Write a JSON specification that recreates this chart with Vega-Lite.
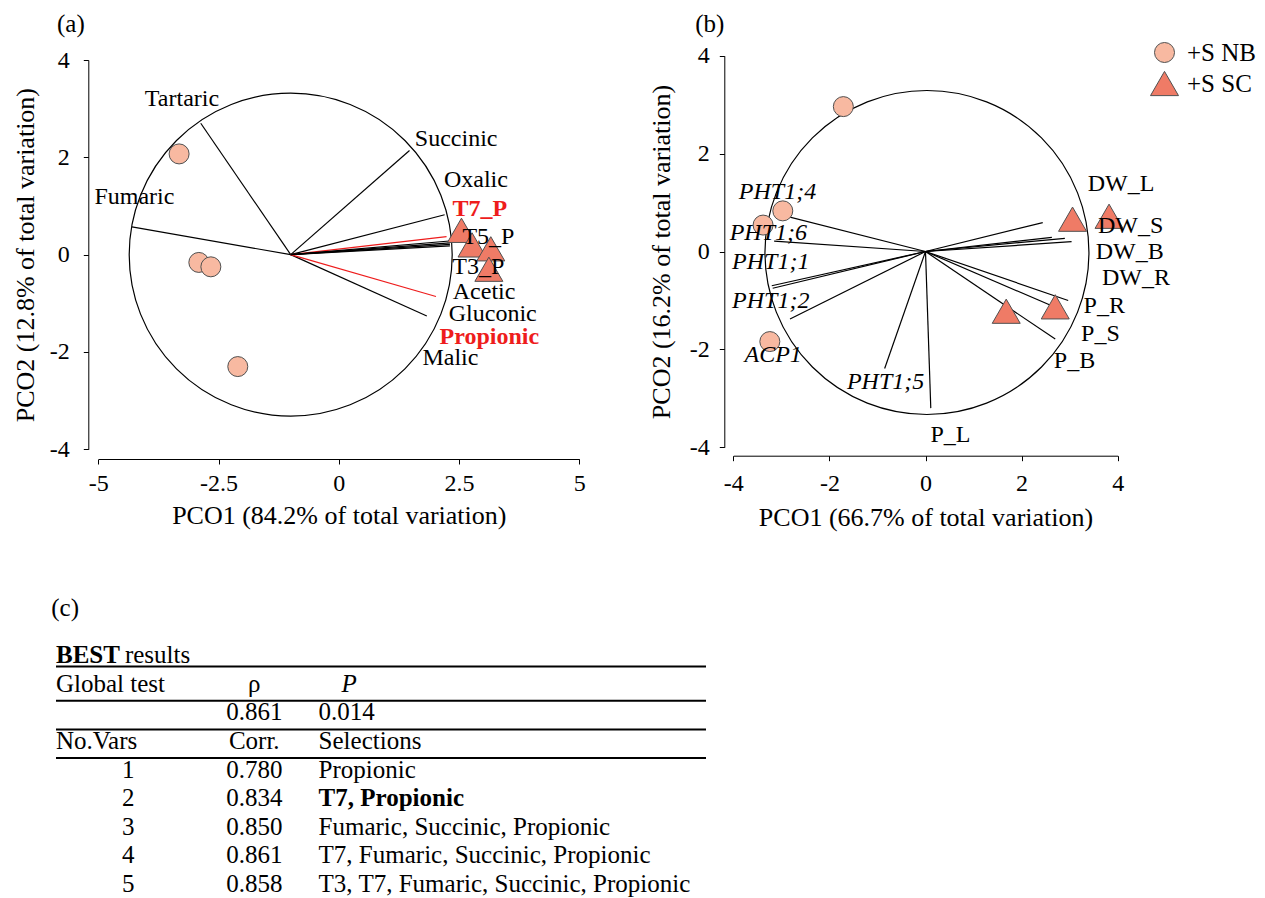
{
  "$schema": "https://vega.github.io/schema/vega-lite/v6.json",
  "width": 1265,
  "height": 898,
  "autosize": {"type": "none"},
  "padding": 0,
  "background": "#ffffff",
  "config": {
    "view": {"stroke": null},
    "font": "Liberation Serif",
    "axis": {
      "grid": false,
      "domainColor": "#000000",
      "domainWidth": 1,
      "tickColor": "#000000",
      "tickWidth": 1,
      "tickSize": 5,
      "labelFont": "Liberation Serif",
      "labelFontSize": 24,
      "labelColor": "#000000",
      "labelFlush": false,
      "labelOverlap": false,
      "titleFont": "Liberation Serif",
      "titleFontSize": 26,
      "titleFontWeight": "normal",
      "titleColor": "#000000"
    },
    "legend": {
      "title": null,
      "padding": 0,
      "labelFont": "Liberation Serif",
      "labelFontSize": 25,
      "labelColor": "#000000",
      "labelOffset": 8,
      "rowPadding": 3,
      "symbolStrokeColor": "#505050",
      "symbolStrokeWidth": 1,
      "symbolOpacity": 1
    },
    "text": {"font": "Liberation Serif", "fontSize": 24, "color": "#000000", "baseline": "middle"}
  },
  "datasets": {
    "acidScores": [
      {"treatment": "+S NB", "pc1": -3.32, "pc2": 2.07},
      {"treatment": "+S NB", "pc1": -2.91, "pc2": -0.16},
      {"treatment": "+S NB", "pc1": -2.66, "pc2": -0.25},
      {"treatment": "+S NB", "pc1": -2.10, "pc2": -2.30},
      {"treatment": "+S SC", "pc1": 2.55, "pc2": 0.50},
      {"treatment": "+S SC", "pc1": 2.77, "pc2": 0.20},
      {"treatment": "+S SC", "pc1": 3.16, "pc2": 0.12},
      {"treatment": "+S SC", "pc1": 3.12, "pc2": -0.30}
    ],
    "acidVectors": [
      {"v": "Tartaric", "x0": -1.0, "y0": 0, "x1": -2.87, "y1": 2.70, "lx": -3.26, "ly": 3.20, "best": false},
      {"v": "Fumaric", "x0": -1.0, "y0": 0, "x1": -4.30, "y1": 0.57, "lx": -4.25, "ly": 1.18, "best": false},
      {"v": "Succinic", "x0": -1.0, "y0": 0, "x1": 1.47, "y1": 2.14, "lx": 2.44, "ly": 2.38, "best": false},
      {"v": "Oxalic", "x0": -1.0, "y0": 0, "x1": 2.20, "y1": 0.82, "lx": 2.85, "ly": 1.53, "best": false},
      {"v": "T7_P", "x0": -1.0, "y0": 0, "x1": 2.24, "y1": 0.37, "lx": 2.93, "ly": 0.94, "best": true},
      {"v": "T5_P", "x0": -1.0, "y0": 0, "x1": 2.30, "y1": 0.28, "lx": 3.11, "ly": 0.36, "best": false},
      {"v": "T3_P", "x0": -1.0, "y0": 0, "x1": 2.31, "y1": 0.24, "lx": 2.90, "ly": -0.25, "best": false},
      {"v": "Acetic", "x0": -1.0, "y0": 0, "x1": 2.31, "y1": 0.21, "lx": 3.02, "ly": -0.76, "best": false},
      {"v": "Gluconic", "x0": -1.0, "y0": 0, "x1": 1.83, "y1": -1.26, "lx": 3.20, "ly": -1.22, "best": false},
      {"v": "Propionic", "x0": -1.0, "y0": 0, "x1": 2.02, "y1": -0.86, "lx": 3.13, "ly": -1.69, "best": true},
      {"v": "Malic", "x0": -1.0, "y0": 0, "x1": 2.31, "y1": 0.18, "lx": 2.32, "ly": -2.12, "best": false}
    ],
    "acidRing": [{"cx": -1.0, "cy": 0}],
    "geneScores": [
      {"treatment": "+S NB", "pc1": -1.71, "pc2": 2.96},
      {"treatment": "+S NB", "pc1": -2.97, "pc2": 0.83},
      {"treatment": "+S NB", "pc1": -3.38, "pc2": 0.54},
      {"treatment": "+S NB", "pc1": -3.24, "pc2": -1.84},
      {"treatment": "+S SC", "pc1": 3.06, "pc2": 0.66},
      {"treatment": "+S SC", "pc1": 3.82, "pc2": 0.72},
      {"treatment": "+S SC", "pc1": 2.70, "pc2": -1.13},
      {"treatment": "+S SC", "pc1": 1.68, "pc2": -1.22}
    ],
    "geneVectors": [
      {"v": "PHT1;4", "kind": "gene", "x0": 0, "y0": 0, "x1": -3.17, "y1": 0.79, "lx": -3.08, "ly": 1.22},
      {"v": "PHT1;6", "kind": "gene", "x0": 0, "y0": 0, "x1": -3.15, "y1": 0.21, "lx": -3.27, "ly": 0.38},
      {"v": "PHT1;1", "kind": "gene", "x0": 0, "y0": 0, "x1": -3.20, "y1": -0.70, "lx": -3.22, "ly": -0.21},
      {"v": "ACP1", "kind": "gene", "x0": 0, "y0": 0, "x1": -3.18, "y1": -0.75, "lx": -3.17, "ly": -2.11},
      {"v": "PHT1;2", "kind": "gene", "x0": 0, "y0": 0, "x1": -2.82, "y1": -1.38, "lx": -3.22, "ly": -1.02},
      {"v": "PHT1;5", "kind": "gene", "x0": 0, "y0": 0, "x1": -0.85, "y1": -2.39, "lx": -0.83, "ly": -2.67},
      {"v": "P_L", "kind": "trait", "x0": 0, "y0": 0, "x1": 0.11, "y1": -3.20, "lx": 0.52, "ly": -3.75},
      {"v": "P_B", "kind": "trait", "x0": 0, "y0": 0, "x1": 2.70, "y1": -1.79, "lx": 3.10, "ly": -2.24},
      {"v": "P_S", "kind": "trait", "x0": 0, "y0": 0, "x1": 2.70, "y1": -1.14, "lx": 3.64, "ly": -1.69},
      {"v": "P_R", "kind": "trait", "x0": 0, "y0": 0, "x1": 2.97, "y1": -1.00, "lx": 3.72, "ly": -1.11},
      {"v": "DW_R", "kind": "trait", "x0": 0, "y0": 0, "x1": 3.04, "y1": 0.20, "lx": 4.38, "ly": -0.55},
      {"v": "DW_B", "kind": "trait", "x0": 0, "y0": 0, "x1": 2.90, "y1": 0.27, "lx": 4.25, "ly": 0.0},
      {"v": "DW_S", "kind": "trait", "x0": 0, "y0": 0, "x1": 2.63, "y1": 0.29, "lx": 4.27, "ly": 0.52},
      {"v": "DW_L", "kind": "trait", "x0": 0, "y0": 0, "x1": 2.44, "y1": 0.59, "lx": 4.07, "ly": 1.38}
    ],
    "geneRing": [{"cx": 0.03, "cy": -0.02}],
    "panelTags": [
      {"panel": "a", "tag": "(a)", "x": -5.57, "y": 4.75},
      {"panel": "b", "tag": "(b)", "x": -4.49, "y": 4.64}
    ],
    "tableHeads": [
      {"line": 0, "c": "head", "t": "BEST"},
      {"line": 0, "c": "headRest", "t": "results"},
      {"line": 1, "c": "lab", "t": "Global test"},
      {"line": 1, "c": "corr", "t": "ρ"},
      {"line": 1, "c": "p", "t": "P"},
      {"line": 3, "c": "lab", "t": "No.Vars"},
      {"line": 3, "c": "corr", "t": "Corr."},
      {"line": 3, "c": "sel", "t": "Selections"},
      {"line": -1.65, "c": "tag", "t": "(c)"}
    ],
    "globalTest": [{"line": 2, "rho": 0.861, "p": 0.014}],
    "bestSelections": [
      {"line": 4, "nvars": 1, "corr": 0.780, "vars": "Propionic", "best": false},
      {"line": 5, "nvars": 2, "corr": 0.834, "vars": "T7, Propionic", "best": true},
      {"line": 6, "nvars": 3, "corr": 0.850, "vars": "Fumaric, Succinic, Propionic", "best": false},
      {"line": 7, "nvars": 4, "corr": 0.861, "vars": "T7, Fumaric, Succinic, Propionic", "best": false},
      {"line": 8, "nvars": 5, "corr": 0.858, "vars": "T3, T7, Fumaric, Succinic, Propionic", "best": false}
    ],
    "tableRules": [{"below": 0.4}, {"below": 1.6}, {"below": 2.6}, {"below": 3.6}]
  },
  "resolve": {"scale": {"x": "independent", "y": "independent"}},
  "layer": [
    {
      "data": {"name": "acidVectors"},
      "mark": {"type": "rule", "strokeWidth": 1.2},
      "encoding": {
        "x": {
          "field": "x0", "type": "quantitative",
          "scale": {"domain": [-5, 5], "range": [98.3, 579.3], "nice": false, "zero": false},
          "axis": {
            "orient": "bottom", "offset": -439, "values": [-5, -2.5, 0, 2.5, 5], "format": ".1~f",
            "labelExpr": "replace(datum.label, '\u2212', '-')",
            "labelPadding": 19, "labelBaseline": "middle",
            "title": "PCO1 (84.2% of total variation)", "titleBaseline": "middle", "titleY": 56
          }
        },
        "y": {
          "field": "y0", "type": "quantitative",
          "scale": {"domain": [-4, 4], "range": [449.3, 60], "nice": false, "zero": false},
          "axis": {
            "orient": "left", "offset": -88.3, "values": [-4, -2, 0, 2, 4], "format": "d",
            "labelExpr": "replace(datum.label, '\u2212', '-')",
            "labelPadding": 14,
            "title": "PCO2 (12.8% of total variation)", "titleAngle": -90, "titleBaseline": "middle", "titleX": -63.3
          }
        },
        "x2": {"field": "x1"},
        "y2": {"field": "y1"},
        "color": {"condition": {"test": "datum.best", "value": "#ee1c1c"}, "value": "#000000"}
      }
    },
    {
      "data": {"name": "acidRing"},
      "mark": {"type": "point", "shape": "circle", "filled": false, "size": 104329, "color": "#000000", "strokeWidth": 1.2, "opacity": 1},
      "encoding": {
        "x": {"field": "cx", "type": "quantitative", "scale": {"domain": [-5, 5], "range": [98.3, 579.3], "nice": false, "zero": false}, "axis": null},
        "y": {"field": "cy", "type": "quantitative", "scale": {"domain": [-4, 4], "range": [449.3, 60], "nice": false, "zero": false}, "axis": null}
      }
    },
    {
      "data": {"name": "acidScores"},
      "mark": {"type": "point", "filled": true, "opacity": 1, "stroke": "#505050", "strokeWidth": 1},
      "encoding": {
        "x": {"field": "pc1", "type": "quantitative", "scale": {"domain": [-5, 5], "range": [98.3, 579.3], "nice": false, "zero": false}, "axis": null},
        "y": {"field": "pc2", "type": "quantitative", "scale": {"domain": [-4, 4], "range": [449.3, 60], "nice": false, "zero": false}, "axis": null},
        "shape": {"field": "treatment", "type": "nominal", "scale": {"domain": ["+S NB", "+S SC"], "range": ["circle", "triangle-up"]}, "legend": {"orient": "none", "legendX": 1150, "legendY": 40, "encode": {"symbols": {"update": {"stroke": {"value": "#505050"}, "strokeWidth": {"value": 1}}}}}},
        "fill": {"field": "treatment", "type": "nominal", "scale": {"domain": ["+S NB", "+S SC"], "range": ["#f8b9a1", "#ef7b66"]}, "legend": {"orient": "none", "legendX": 1150, "legendY": 40, "encode": {"symbols": {"update": {"stroke": {"value": "#505050"}, "strokeWidth": {"value": 1}}}}}},
        "size": {"field": "treatment", "type": "nominal", "scale": {"domain": ["+S NB", "+S SC"], "range": [400, 784]}, "legend": {"orient": "none", "legendX": 1150, "legendY": 40, "encode": {"symbols": {"update": {"stroke": {"value": "#505050"}, "strokeWidth": {"value": 1}}}}}}
      }
    },
    {
      "data": {"name": "acidVectors"},
      "transform": [{"filter": "!datum.best"}],
      "mark": {"type": "text", "align": "center", "baseline": "middle", "fontSize": 24},
      "encoding": {
        "x": {"field": "lx", "type": "quantitative", "scale": {"domain": [-5, 5], "range": [98.3, 579.3], "nice": false, "zero": false}, "axis": null},
        "y": {"field": "ly", "type": "quantitative", "scale": {"domain": [-4, 4], "range": [449.3, 60], "nice": false, "zero": false}, "axis": null},
        "text": {"field": "v"}
      }
    },
    {
      "data": {"name": "acidVectors"},
      "transform": [{"filter": "datum.best"}],
      "mark": {"type": "text", "align": "center", "baseline": "middle", "fontSize": 24, "fontWeight": "bold", "color": "#ee1c1c"},
      "encoding": {
        "x": {"field": "lx", "type": "quantitative", "scale": {"domain": [-5, 5], "range": [98.3, 579.3], "nice": false, "zero": false}, "axis": null},
        "y": {"field": "ly", "type": "quantitative", "scale": {"domain": [-4, 4], "range": [449.3, 60], "nice": false, "zero": false}, "axis": null},
        "text": {"field": "v"}
      }
    },
    {
      "data": {"name": "panelTags"},
      "transform": [{"filter": "datum.panel == 'a'"}],
      "mark": {"type": "text", "align": "center", "baseline": "middle", "fontSize": 25},
      "encoding": {
        "x": {"field": "x", "type": "quantitative", "scale": {"domain": [-5, 5], "range": [98.3, 579.3], "nice": false, "zero": false}, "axis": null},
        "y": {"field": "y", "type": "quantitative", "scale": {"domain": [-4, 4], "range": [449.3, 60], "nice": false, "zero": false}, "axis": null},
        "text": {"field": "tag"}
      }
    },
    {
      "data": {"name": "geneVectors"},
      "mark": {"type": "rule", "strokeWidth": 1.2, "color": "#000000"},
      "encoding": {
        "x": {
          "field": "x0", "type": "quantitative",
          "scale": {"domain": [-4, 4], "range": [733.3, 1117.7], "nice": false, "zero": false},
          "axis": {
            "orient": "bottom", "offset": -442.3, "values": [-4, -2, 0, 2, 4], "format": "d",
            "labelExpr": "replace(datum.label, '\u2212', '-')",
            "labelPadding": 22.6, "labelBaseline": "middle",
            "title": "PCO1 (66.7% of total variation)", "titleBaseline": "middle", "titleY": 61.8
          }
        },
        "y": {
          "field": "y0", "type": "quantitative",
          "scale": {"domain": [-4, 4], "range": [447.3, 55.7], "nice": false, "zero": false},
          "axis": {
            "orient": "left", "offset": -724.3, "values": [-4, -2, 0, 2, 4], "format": "d",
            "labelExpr": "replace(datum.label, '\u2212', '-')",
            "labelPadding": 10,
            "title": "PCO2 (16.2% of total variation)", "titleAngle": -90, "titleBaseline": "middle", "titleX": -63.3
          }
        },
        "x2": {"field": "x1"},
        "y2": {"field": "y1"}
      }
    },
    {
      "data": {"name": "geneRing"},
      "mark": {"type": "point", "shape": "circle", "filled": false, "size": 104976, "color": "#000000", "strokeWidth": 1.2, "opacity": 1},
      "encoding": {
        "x": {"field": "cx", "type": "quantitative", "scale": {"domain": [-4, 4], "range": [733.3, 1117.7], "nice": false, "zero": false}, "axis": null},
        "y": {"field": "cy", "type": "quantitative", "scale": {"domain": [-4, 4], "range": [447.3, 55.7], "nice": false, "zero": false}, "axis": null}
      }
    },
    {
      "data": {"name": "geneScores"},
      "mark": {"type": "point", "filled": true, "opacity": 1, "stroke": "#505050", "strokeWidth": 1},
      "encoding": {
        "x": {"field": "pc1", "type": "quantitative", "scale": {"domain": [-4, 4], "range": [733.3, 1117.7], "nice": false, "zero": false}, "axis": null},
        "y": {"field": "pc2", "type": "quantitative", "scale": {"domain": [-4, 4], "range": [447.3, 55.7], "nice": false, "zero": false}, "axis": null},
        "shape": {"field": "treatment", "type": "nominal", "scale": {"domain": ["+S NB", "+S SC"], "range": ["circle", "triangle-up"]}, "legend": {"orient": "none", "legendX": 1150, "legendY": 40, "encode": {"symbols": {"update": {"stroke": {"value": "#505050"}, "strokeWidth": {"value": 1}}}}}},
        "fill": {"field": "treatment", "type": "nominal", "scale": {"domain": ["+S NB", "+S SC"], "range": ["#f8b9a1", "#ef7b66"]}, "legend": {"orient": "none", "legendX": 1150, "legendY": 40, "encode": {"symbols": {"update": {"stroke": {"value": "#505050"}, "strokeWidth": {"value": 1}}}}}},
        "size": {"field": "treatment", "type": "nominal", "scale": {"domain": ["+S NB", "+S SC"], "range": [400, 784]}, "legend": {"orient": "none", "legendX": 1150, "legendY": 40, "encode": {"symbols": {"update": {"stroke": {"value": "#505050"}, "strokeWidth": {"value": 1}}}}}}
      }
    },
    {
      "data": {"name": "geneVectors"},
      "transform": [{"filter": "datum.kind == 'trait'"}],
      "mark": {"type": "text", "align": "center", "baseline": "middle", "fontSize": 24},
      "encoding": {
        "x": {"field": "lx", "type": "quantitative", "scale": {"domain": [-4, 4], "range": [733.3, 1117.7], "nice": false, "zero": false}, "axis": null},
        "y": {"field": "ly", "type": "quantitative", "scale": {"domain": [-4, 4], "range": [447.3, 55.7], "nice": false, "zero": false}, "axis": null},
        "text": {"field": "v"}
      }
    },
    {
      "data": {"name": "geneVectors"},
      "transform": [{"filter": "datum.kind == 'gene'"}],
      "mark": {"type": "text", "align": "center", "baseline": "middle", "fontSize": 24, "fontStyle": "italic"},
      "encoding": {
        "x": {"field": "lx", "type": "quantitative", "scale": {"domain": [-4, 4], "range": [733.3, 1117.7], "nice": false, "zero": false}, "axis": null},
        "y": {"field": "ly", "type": "quantitative", "scale": {"domain": [-4, 4], "range": [447.3, 55.7], "nice": false, "zero": false}, "axis": null},
        "text": {"field": "v"}
      }
    },
    {
      "data": {"name": "panelTags"},
      "transform": [{"filter": "datum.panel == 'b'"}],
      "mark": {"type": "text", "align": "center", "baseline": "middle", "fontSize": 25},
      "encoding": {
        "x": {"field": "x", "type": "quantitative", "scale": {"domain": [-4, 4], "range": [733.3, 1117.7], "nice": false, "zero": false}, "axis": null},
        "y": {"field": "y", "type": "quantitative", "scale": {"domain": [-4, 4], "range": [447.3, 55.7], "nice": false, "zero": false}, "axis": null},
        "text": {"field": "tag"}
      }
    },
    {
      "data": {"name": "tableRules"},
      "mark": {"type": "rule", "strokeWidth": 2, "color": "#000000"},
      "encoding": {
        "x": {"datum": 0, "type": "quantitative", "scale": {"domain": [0, 100], "range": [56, 706], "nice": false, "zero": false}, "axis": null},
        "x2": {"datum": 100},
        "y": {"field": "below", "type": "quantitative", "scale": {"domain": [0, 8], "range": [655, 884], "nice": false, "zero": false}, "axis": null}
      }
    },
    {
      "data": {"name": "tableHeads"},
      "transform": [{"filter": "datum.c == 'tag'"}],
      "mark": {"type": "text", "align": "center", "fontSize": 25},
      "encoding": {
        "x": {"datum": 1.4, "type": "quantitative", "scale": {"domain": [0, 100], "range": [56, 706], "nice": false, "zero": false}, "axis": null},
        "y": {"field": "line", "type": "quantitative", "scale": {"domain": [0, 8], "range": [655, 884], "nice": false, "zero": false}, "axis": null},
        "text": {"field": "t"}
      }
    },
    {
      "data": {"name": "tableHeads"},
      "transform": [{"filter": "datum.c == 'head'"}],
      "mark": {"type": "text", "align": "left", "fontSize": 25, "fontWeight": "bold"},
      "encoding": {
        "x": {"datum": 0, "type": "quantitative", "scale": {"domain": [0, 100], "range": [56, 706], "nice": false, "zero": false}, "axis": null},
        "y": {"field": "line", "type": "quantitative", "scale": {"domain": [0, 8], "range": [655, 884], "nice": false, "zero": false}, "axis": null},
        "text": {"field": "t"}
      }
    },
    {
      "data": {"name": "tableHeads"},
      "transform": [{"filter": "datum.c == 'headRest'"}],
      "mark": {"type": "text", "align": "left", "fontSize": 25},
      "encoding": {
        "x": {"datum": 10.6, "type": "quantitative", "scale": {"domain": [0, 100], "range": [56, 706], "nice": false, "zero": false}, "axis": null},
        "y": {"field": "line", "type": "quantitative", "scale": {"domain": [0, 8], "range": [655, 884], "nice": false, "zero": false}, "axis": null},
        "text": {"field": "t"}
      }
    },
    {
      "data": {"name": "tableHeads"},
      "transform": [{"filter": "datum.c == 'lab'"}],
      "mark": {"type": "text", "align": "left", "fontSize": 25},
      "encoding": {
        "x": {"datum": 0, "type": "quantitative", "scale": {"domain": [0, 100], "range": [56, 706], "nice": false, "zero": false}, "axis": null},
        "y": {"field": "line", "type": "quantitative", "scale": {"domain": [0, 8], "range": [655, 884], "nice": false, "zero": false}, "axis": null},
        "text": {"field": "t"}
      }
    },
    {
      "data": {"name": "tableHeads"},
      "transform": [{"filter": "datum.c == 'corr'"}],
      "mark": {"type": "text", "align": "center", "fontSize": 25},
      "encoding": {
        "x": {"datum": 30.5, "type": "quantitative", "scale": {"domain": [0, 100], "range": [56, 706], "nice": false, "zero": false}, "axis": null},
        "y": {"field": "line", "type": "quantitative", "scale": {"domain": [0, 8], "range": [655, 884], "nice": false, "zero": false}, "axis": null},
        "text": {"field": "t"}
      }
    },
    {
      "data": {"name": "tableHeads"},
      "transform": [{"filter": "datum.c == 'p'"}],
      "mark": {"type": "text", "align": "center", "fontSize": 25, "fontStyle": "italic"},
      "encoding": {
        "x": {"datum": 45.1, "type": "quantitative", "scale": {"domain": [0, 100], "range": [56, 706], "nice": false, "zero": false}, "axis": null},
        "y": {"field": "line", "type": "quantitative", "scale": {"domain": [0, 8], "range": [655, 884], "nice": false, "zero": false}, "axis": null},
        "text": {"field": "t"}
      }
    },
    {
      "data": {"name": "tableHeads"},
      "transform": [{"filter": "datum.c == 'sel'"}],
      "mark": {"type": "text", "align": "left", "fontSize": 25},
      "encoding": {
        "x": {"datum": 40.4, "type": "quantitative", "scale": {"domain": [0, 100], "range": [56, 706], "nice": false, "zero": false}, "axis": null},
        "y": {"field": "line", "type": "quantitative", "scale": {"domain": [0, 8], "range": [655, 884], "nice": false, "zero": false}, "axis": null},
        "text": {"field": "t"}
      }
    },
    {
      "data": {"name": "globalTest"},
      "mark": {"type": "text", "align": "center", "fontSize": 25},
      "encoding": {
        "x": {"datum": 30.5, "type": "quantitative", "scale": {"domain": [0, 100], "range": [56, 706], "nice": false, "zero": false}, "axis": null},
        "y": {"field": "line", "type": "quantitative", "scale": {"domain": [0, 8], "range": [655, 884], "nice": false, "zero": false}, "axis": null},
        "text": {"field": "rho", "type": "quantitative", "format": ".3f"}
      }
    },
    {
      "data": {"name": "globalTest"},
      "mark": {"type": "text", "align": "left", "fontSize": 25},
      "encoding": {
        "x": {"datum": 40.4, "type": "quantitative", "scale": {"domain": [0, 100], "range": [56, 706], "nice": false, "zero": false}, "axis": null},
        "y": {"field": "line", "type": "quantitative", "scale": {"domain": [0, 8], "range": [655, 884], "nice": false, "zero": false}, "axis": null},
        "text": {"field": "p", "type": "quantitative", "format": ".3f"}
      }
    },
    {
      "data": {"name": "bestSelections"},
      "mark": {"type": "text", "align": "center", "fontSize": 25},
      "encoding": {
        "x": {"datum": 11.1, "type": "quantitative", "scale": {"domain": [0, 100], "range": [56, 706], "nice": false, "zero": false}, "axis": null},
        "y": {"field": "line", "type": "quantitative", "scale": {"domain": [0, 8], "range": [655, 884], "nice": false, "zero": false}, "axis": null},
        "text": {"field": "nvars", "type": "quantitative", "format": "d"}
      }
    },
    {
      "data": {"name": "bestSelections"},
      "mark": {"type": "text", "align": "center", "fontSize": 25},
      "encoding": {
        "x": {"datum": 30.5, "type": "quantitative", "scale": {"domain": [0, 100], "range": [56, 706], "nice": false, "zero": false}, "axis": null},
        "y": {"field": "line", "type": "quantitative", "scale": {"domain": [0, 8], "range": [655, 884], "nice": false, "zero": false}, "axis": null},
        "text": {"field": "corr", "type": "quantitative", "format": ".3f"}
      }
    },
    {
      "data": {"name": "bestSelections"},
      "transform": [{"filter": "!datum.best"}],
      "mark": {"type": "text", "align": "left", "fontSize": 25},
      "encoding": {
        "x": {"datum": 40.4, "type": "quantitative", "scale": {"domain": [0, 100], "range": [56, 706], "nice": false, "zero": false}, "axis": null},
        "y": {"field": "line", "type": "quantitative", "scale": {"domain": [0, 8], "range": [655, 884], "nice": false, "zero": false}, "axis": null},
        "text": {"field": "vars"}
      }
    },
    {
      "data": {"name": "bestSelections"},
      "transform": [{"filter": "datum.best"}],
      "mark": {"type": "text", "align": "left", "fontSize": 25, "fontWeight": "bold"},
      "encoding": {
        "x": {"datum": 40.4, "type": "quantitative", "scale": {"domain": [0, 100], "range": [56, 706], "nice": false, "zero": false}, "axis": null},
        "y": {"field": "line", "type": "quantitative", "scale": {"domain": [0, 8], "range": [655, 884], "nice": false, "zero": false}, "axis": null},
        "text": {"field": "vars"}
      }
    }
  ]
}
